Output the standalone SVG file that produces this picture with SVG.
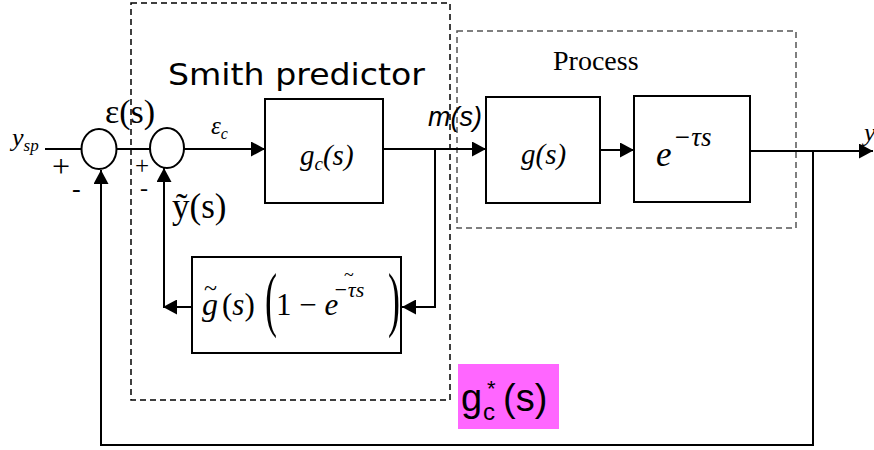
<svg xmlns="http://www.w3.org/2000/svg" width="874" height="450" viewBox="0 0 874 450">
<style>
.ln{fill:none;stroke:#000;stroke-width:2}
.box{fill:#fff;stroke:#000;stroke-width:2}
.sum{fill:#fff;stroke:#000;stroke-width:2}
.dash{fill:none;stroke:#000;stroke-width:1.5;stroke-dasharray:6 4}
.dashg{fill:none;stroke:#555;stroke-width:1.5;stroke-dasharray:6 4}
.serif{font-family:"Liberation Serif","Times New Roman",serif;fill:#000}
.sans{font-family:"Liberation Sans",Arial,sans-serif;fill:#000}
.dv{font-family:"DejaVu Sans",Verdana,sans-serif;fill:#000}
.it{font-style:italic}
</style>
<defs>
<marker id="ah" markerUnits="userSpaceOnUse" markerWidth="15" markerHeight="15" refX="14" refY="7.5" orient="auto">
<path d="M0,0 L14,7.5 L0,15 z" fill="#000"/>
</marker>
</defs>

<g id="smith-frame">
<rect class="dash" x="131" y="3" width="319" height="397"/>
<text class="dv" x="168" y="85" font-size="30" textLength="257" lengthAdjust="spacingAndGlyphs">Smith predictor</text>
</g>
<g id="process-frame">
<rect class="dashg" x="457" y="31" width="339" height="197"/>
<text class="serif" x="553" y="70" font-size="28">Process</text>
</g>

<g id="connectors">
<path class="ln" d="M45,149 H81"/>
<path class="ln" d="M117,149 H150"/>
<path class="ln" d="M184,149 H265" marker-end="url(#ah)"/>
<path class="ln" d="M383,149 H486" marker-end="url(#ah)"/>
<path class="ln" d="M600,150 H634" marker-end="url(#ah)"/>
<path class="ln" d="M750,151 H873" marker-end="url(#ah)"/>
<path class="ln" d="M435,149 V307 H402" marker-end="url(#ah)"/>
<path class="ln" d="M192,307 H163" marker-end="url(#ah)"/>
<path class="ln" d="M164,307 V168" marker-end="url(#ah)"/>
<path class="ln" d="M813,151 V445 H101 V170" marker-end="url(#ah)"/>
</g>

<g id="sum1">
<ellipse class="sum" cx="99" cy="149" rx="17.5" ry="20"/>
<text class="serif" x="52" y="177" font-size="32">+</text>
<text class="serif" x="72" y="197" font-size="26">-</text>
</g>
<g id="sum2">
<ellipse class="sum" cx="167" cy="148" rx="17" ry="20"/>
<text class="serif" x="135" y="174" font-size="25">+</text>
<text class="serif" x="140" y="196" font-size="24">-</text>
</g>

<g id="labels">
<text class="serif it" x="12" y="146" font-size="26">y<tspan font-size="17" dy="5">sp</tspan></text>
<text class="serif" x="105" y="123" font-size="34">ε(s)</text>
<text class="serif it" x="211" y="134" font-size="25">ε<tspan font-size="16" dy="5">c</tspan></text>
<text class="serif" x="172" y="218" font-size="35">ỹ(s)</text>
<text class="sans it" x="428" y="126" font-size="27">m(s)</text>
<text class="serif it" x="864" y="141" font-size="26">y</text>
</g>

<g id="gc-block">
<rect class="box" x="265" y="99" width="118" height="104"/>
<text class="serif it" x="300" y="165" font-size="29">g<tspan font-size="19" dy="5">c</tspan><tspan dy="-5">(s)</tspan></text>
</g>
<g id="g-block">
<rect class="box" x="486" y="97" width="114" height="106"/>
<text class="serif it" x="521" y="164" font-size="29">g(s)</text>
</g>
<g id="delay-block">
<rect class="box" x="634" y="96" width="116" height="106"/>
<text class="serif it" x="656" y="166" font-size="35">e</text>
<text class="serif it" x="673" y="146" font-size="27">−τs</text>
</g>
<g id="model-block">
<rect class="box" x="192" y="257" width="209" height="96"/>
<text class="serif it" x="202" y="315" font-size="32">g</text>
<text class="serif" x="204" y="296" font-size="24">~</text>
<text class="serif" x="222" y="315" font-size="31">(<tspan font-style="italic">s</tspan>)</text>
<text class="serif" transform="translate(265,323) scale(0.5,1)" font-size="72">(</text>
<text class="serif" x="276" y="315" font-size="31">1 − <tspan font-style="italic">e</tspan></text>
<text class="serif it" x="333" y="297" font-size="22">−τs</text>
<text class="serif" x="344" y="281" font-size="18">~</text>
<text class="serif" transform="translate(388,323) scale(0.5,1)" font-size="72">)</text>
</g>

<g id="gc-star">
<rect x="458" y="364" width="101" height="65" fill="#ff66ff"/>
<text class="sans" x="461" y="411" font-size="38">g</text>
<text class="sans" x="483" y="420" font-size="24">c</text>
<text class="sans" x="487" y="396" font-size="22">*</text>
<text class="sans" x="503" y="411" font-size="38">(s)</text>
</g>
</svg>
